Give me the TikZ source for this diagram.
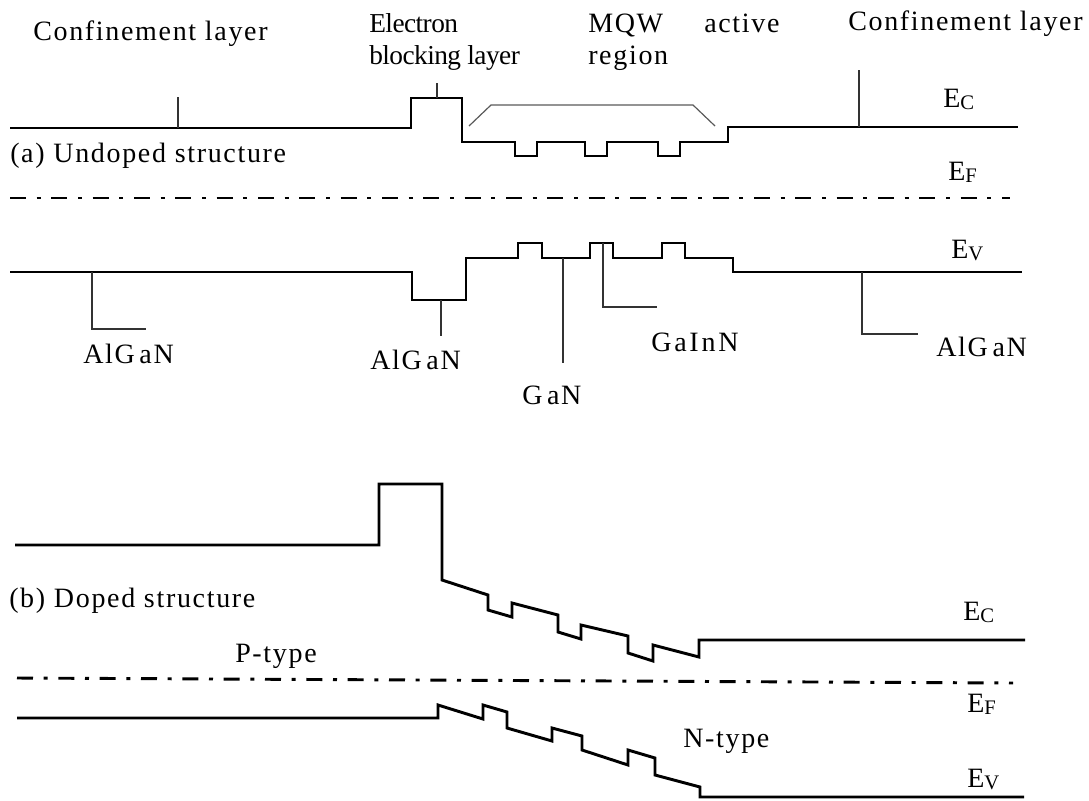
\documentclass[tikz,border=0pt]{standalone}
\usepackage{fontspec}
\setmainfont[LetterSpace=6]{Liberation Serif}
\newcommand{\subl}[1]{\raisebox{-1.6pt}{\fontsize{15.5pt}{15.5pt}\selectfont #1}}
\newcommand{\gap}{\hspace{3.5pt}}
\begin{document}
\begin{tikzpicture}[x=0.75pt,y=-0.75pt,
  band/.style={line width=2.2pt, line join=miter},
  fermi/.style={line width=2.2pt, dash pattern=on 12pt off 8pt on 3pt off 8pt},
  tick/.style={line width=1.3pt, black!80},
  bracket/.style={line width=0.9pt, black!65},
  lbl/.style={anchor=base west, inner sep=0pt, font=\fontsize{21pt}{24pt}\selectfont},
  chem/.style={lbl, font=\fontsize{21pt}{24pt}\selectfont\addfontfeature{LetterSpace=10}},
  tight/.style={lbl, font=\fontsize{20.5pt}{24pt}\selectfont\addfontfeature{LetterSpace=-2}}]
\useasboundingbox (0,0) rectangle (1089,800);

% ---------- (a) undoped ----------
% conduction band
\draw[band] (10,128) -- (411,128) -- (411,98) -- (462,98) -- (462,142) -- (515,142) -- (515,156) -- (537,156) -- (537,142) -- (585,142) -- (585,156) -- (607,156) -- (607,142) -- (658,142) -- (658,156) -- (680,156) -- (680,142) -- (728,142) -- (728,127) -- (1018,127);
\draw[tick] (178,128) -- (178,97);
\draw[tick] (859,127) -- (859,70);
\draw[tick] (437,98) -- (437,83);
\draw[bracket] (469,126) -- (491,105) -- (693,105) -- (715,126);
% Fermi level
\draw[fermi] (10,198) -- (1010,198);
% valence band
\draw[band] (10,272) -- (412,272) -- (412,300) -- (466,300) -- (466,258) -- (518,258) -- (518,243) -- (542,243) -- (542,258) -- (590,258) -- (590,243) -- (613,243) -- (613,258) -- (662,258) -- (662,243) -- (685,243) -- (685,258) -- (733,258) -- (733,272) -- (1022,272);
\draw[tick] (92,272) -- (92,329) -- (146,329);
\draw[tick] (441,300) -- (441,336);
\draw[tick] (563,258) -- (563,363);
\draw[tick] (603,243) -- (603,307) -- (657,307);
\draw[tick] (862,272) -- (862,334) -- (918,334);

% ---------- (b) doped ----------
\draw[band] (15,545) -- (379,545) -- (379,484) -- (442,484) -- (442,580) -- (488,595) -- (488,610) -- (512,617) -- (512,603) -- (558,615) -- (558,632) -- (581,639) -- (581,625) -- (628,636) -- (628,653) -- (653,661) -- (653,645) -- (699,657) -- (699,640) -- (1025,640);
\draw[fermi] (17,678) -- (1013,683);
\draw[band] (17,718) -- (438,718) -- (438,705) -- (483,719) -- (483,705) -- (507,712) -- (507,728) -- (552,741) -- (552,728) -- (582,736) -- (582,750) -- (628,765) -- (628,750) -- (655,758) -- (655,775) -- (700,787) -- (700,797) -- (1024,797);

% ---------- labels ----------
\node[lbl] (conf1) at (33,40) {Confinement layer};
\node[tight] (ebl1) at (369,32) {Electron};
\node[tight] (ebl2) at (369,64) {blocking layer};
\node[lbl] (mqw1) at (588,32) {MQW};
\node[lbl] (mqw2) at (588,64) {region};
\node[lbl] (act) at (704,32) {active};
\node[lbl] (conf2) at (848,30) {Confinement layer};
\node[lbl] (und) at (10,162) {(a) Undoped structure};
\node[lbl] (ec1) at (943,107) {E\subl{C}};
\node[lbl] (ef1) at (948,180) {E\subl{F}};
\node[lbl] (ev1) at (951,258) {E\subl{V}};
\node[lbl] (al1) at (83,363) {AlG\gap aN};
\node[lbl] (al2) at (370,369) {AlG\gap aN};
\node[lbl] (gan) at (522,404) {G\gap aN};
\node[chem] (gain) at (651,351) {GaInN};
\node[lbl] (al3) at (936,356) {AlG\gap aN};
\node[lbl] (dop) at (9,607) {(b) Doped structure};
\node[lbl] (pt) at (235,662) {P-type};
\node[lbl] (nt) at (683,747) {N-type};
\node[lbl] (ec2) at (963,620) {E\subl{C}};
\node[lbl] (ef2) at (967,712) {E\subl{F}};
\node[lbl] (ev2) at (967,787) {E\subl{V}};
\end{tikzpicture}
\end{document}
